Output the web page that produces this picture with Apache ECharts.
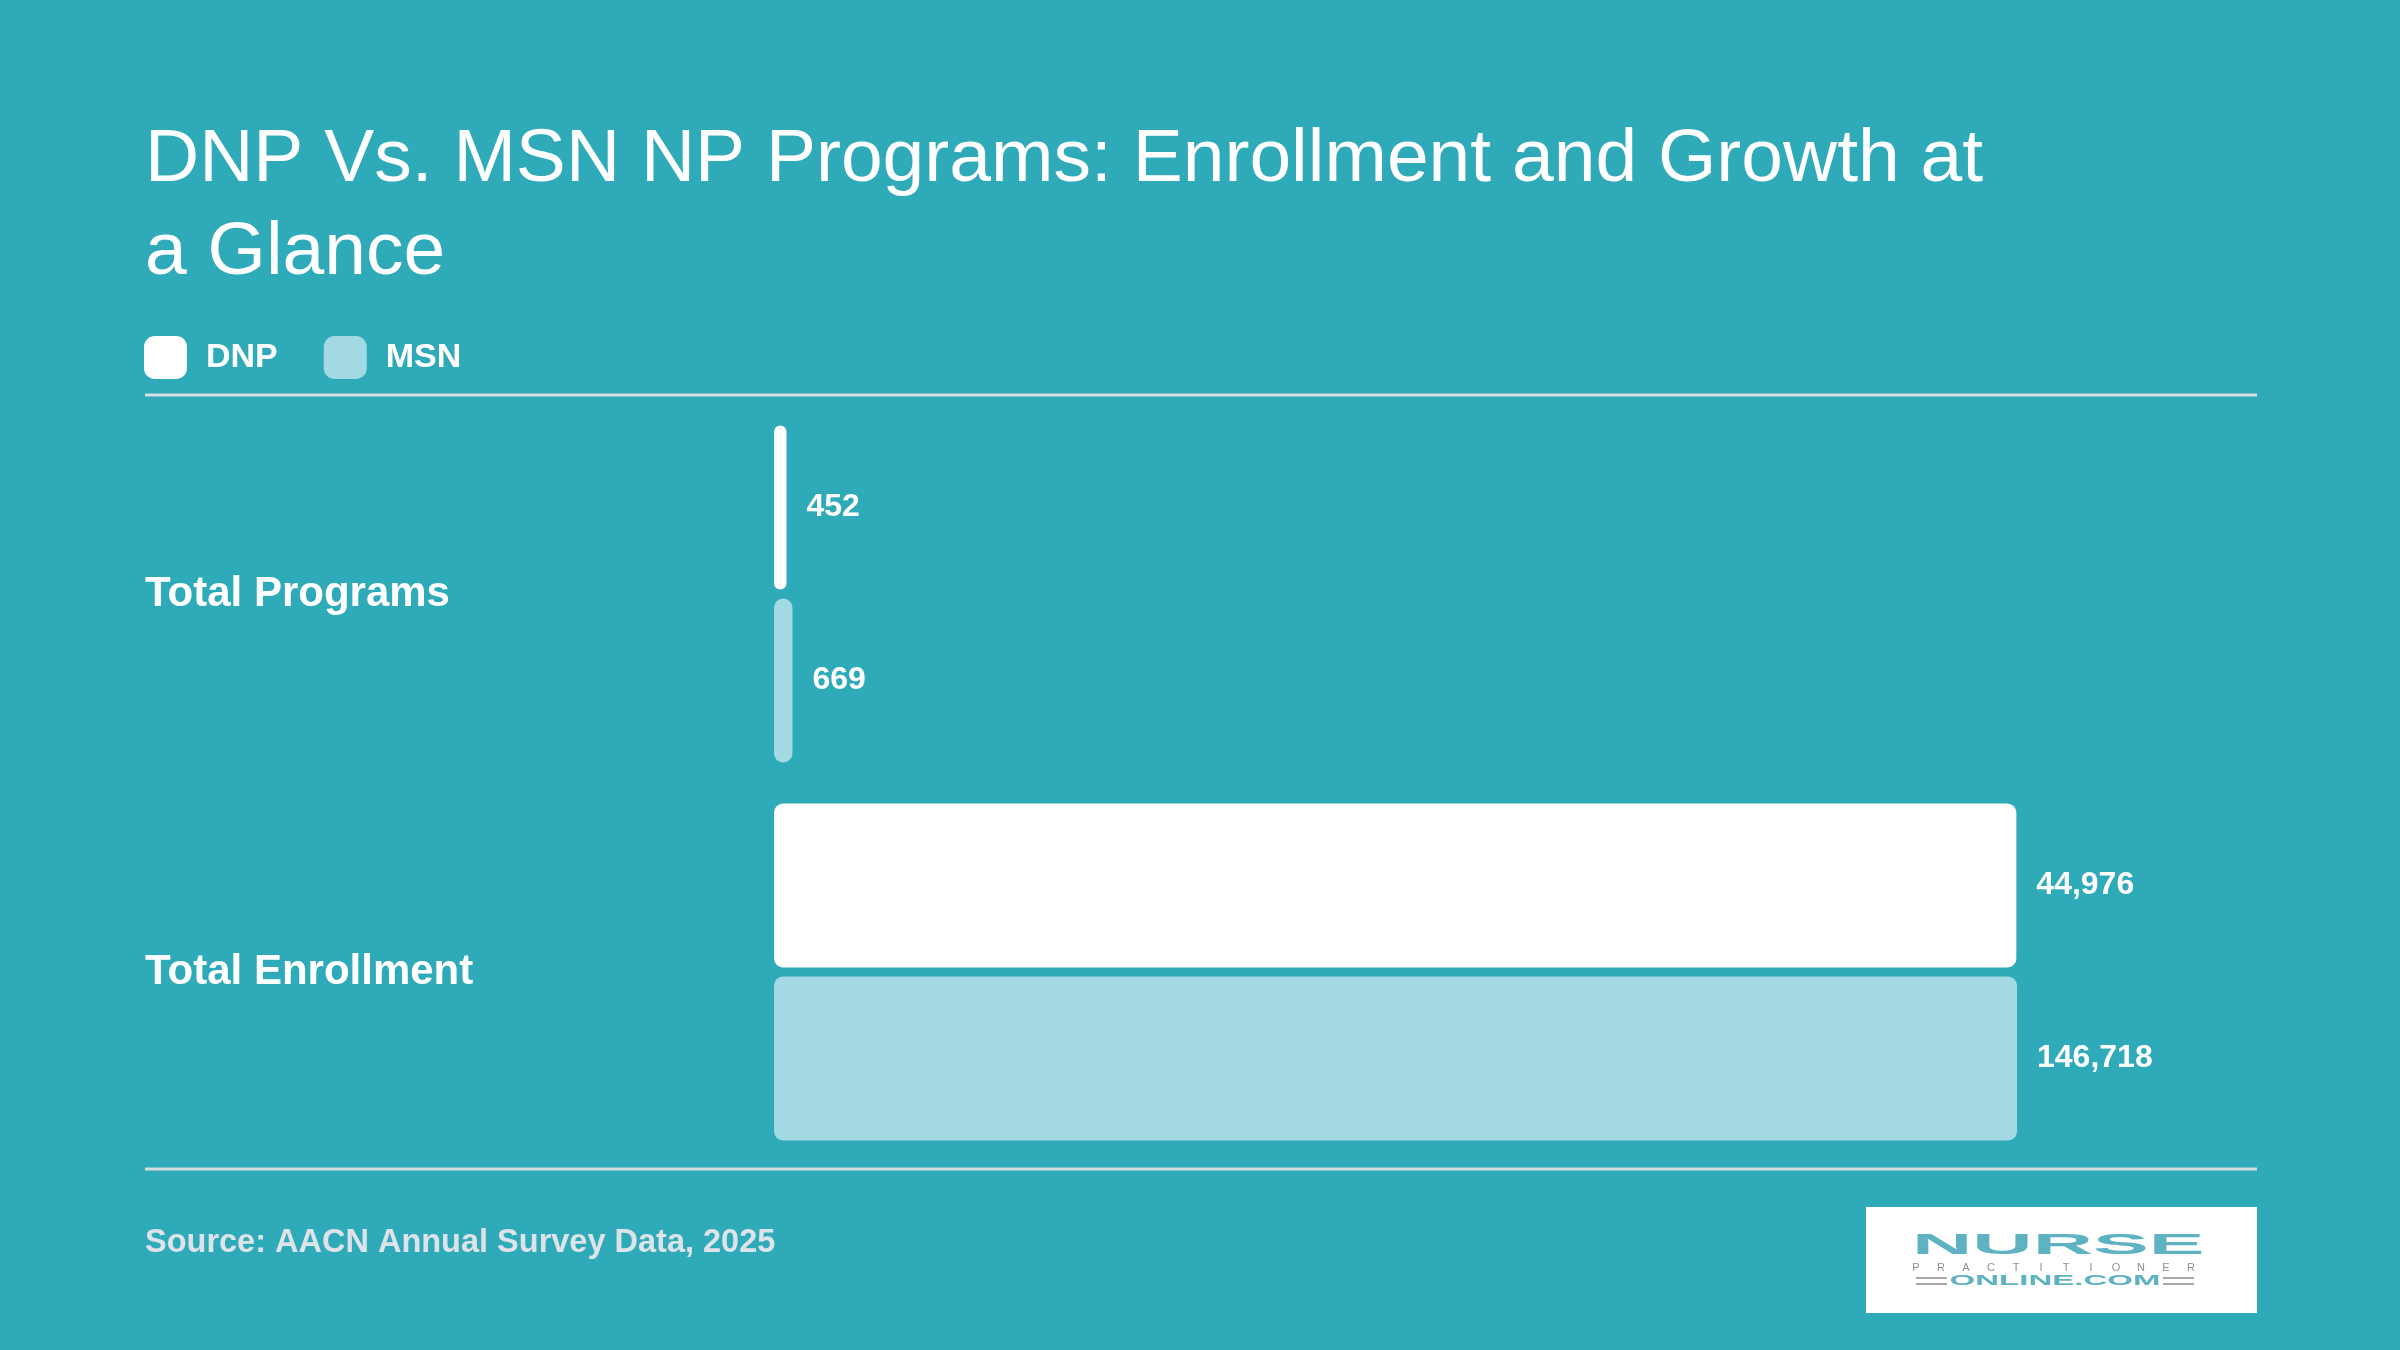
<!DOCTYPE html>
<html>
<head>
<meta charset="utf-8">
<title>DNP Vs. MSN NP Programs</title>
<script src="https://cdn.jsdelivr.net/npm/echarts@6/dist/echarts.min.js"></script>
<style>
  html, body { margin: 0; padding: 0; background: #2eaab9; }
  #main_echart { width: 2400px; height: 1350px; }
</style>
</head>
<body>
<div id="main_echart"></div>
<script>
// data
var categories = ['Total Programs', 'Total Enrollment'];
var seriesNames = ['DNP', 'MSN'];
var dnpValues = [452, 44976];
var msnValues = [669, 146718];
// the axis stops here, longer bars are capped at it (as in the original)
var axisMax = 45000;

var bgColor = '#2eaab9';
var dnpColor = '#ffffff';
var msnColor = '#a2d9e2';
var lineColor = '#d6dee4';
var logoTeal = '#5eb2c2';
var fontFamily = '"Liberation Sans", Arial, Helvetica, sans-serif';

var myChart = echarts.init(document.getElementById('main_echart'));

// bar values capped at the axis, labels keep the real number
function buildData(values) {
    var out = [];
    for (var i = 0; i < values.length; i++) {
        out.push({value: Math.min(values[i], axisMax), raw: values[i]});
    }
    return out;
}

function labelFmt(p) {
    return p.data.raw.toLocaleString('en-US');
}

//logo 里的 PRACTITIONER，字母间距很大，逐个字母放
var logoWord = 'PRACTITIONER';
var logoGraphics = [
    {type: 'rect', shape: {x: 1866, y: 1207, width: 391, height: 106}, style: {fill: '#ffffff'}},
    {
        type: 'text', x: 1912, y: 1246, scaleX: 2.88,
        style: {
            text: 'NURSE', fill: logoTeal,
            font: 'bold 29px ' + fontFamily,
            textVerticalAlign: 'middle'
        }
    },
    {
        type: 'text', x: 2055, y: 1281, scaleX: 2.2,
        style: {
            text: 'ONLINE.COM', fill: logoTeal,
            font: 'bold 15px ' + fontFamily,
            textAlign: 'center', textVerticalAlign: 'middle'
        }
    },
    {type: 'rect', shape: {x: 1916, y: 1277, width: 31, height: 2}, style: {fill: '#a8a8a8'}},
    {type: 'rect', shape: {x: 1916, y: 1283, width: 31, height: 2}, style: {fill: '#a8a8a8'}},
    {type: 'rect', shape: {x: 2163, y: 1277, width: 31, height: 2}, style: {fill: '#a8a8a8'}},
    {type: 'rect', shape: {x: 2163, y: 1283, width: 31, height: 2}, style: {fill: '#a8a8a8'}}
];
for (var k = 0; k < logoWord.length; k++) {
    logoGraphics.push({
        type: 'text', x: 1916 + k * 25, y: 1268,
        style: {
            text: logoWord.charAt(k), fill: '#8f8f8f',
            font: '11px ' + fontFamily,
            textAlign: 'center', textVerticalAlign: 'middle'
        }
    });
}

var option = {
    backgroundColor: bgColor,
    animation: false,
    title: {
        text: 'DNP Vs. MSN NP Programs: Enrollment and Growth at\na Glance',
        left: 145,
        top: 114,
        padding: 0,
        textStyle: {
            color: '#ffffff',
            fontFamily: fontFamily,
            fontWeight: 'normal',
            fontSize: 75,
            lineHeight: 93
        }
    },
    legend: {
        data: seriesNames,
        left: 144,
        top: 336,
        padding: 0,
        itemWidth: 43,
        itemHeight: 43,
        itemGap: 46,
        icon: 'roundRect',
        textStyle: {
            color: '#ffffff',
            fontFamily: fontFamily,
            fontWeight: 'bold',
            fontSize: 34,
            padding: [0, 0, 0, 14]
        }
    },
    grid: {
        left: 774,
        right: 383,
        top: 405,
        bottom: 1350 - 1161
    },
    xAxis: {
        type: 'value',
        min: 0,
        max: axisMax,
        show: false
    },
    yAxis: {
        type: 'category',
        data: categories,
        inverse: true,
        axisLine: {show: false},
        axisTick: {show: false},
        splitLine: {show: false},
        axisLabel: {
            margin: 629,
            align: 'left',
            padding: [12, 0, 0, 0],
            color: '#ffffff',
            fontFamily: fontFamily,
            fontWeight: 'bold',
            fontSize: 42
        }
    },
    series: [
        {
            name: 'DNP',
            type: 'bar',
            data: buildData(dnpValues),
            barWidth: 164,
            barGap: '5.5%',
            itemStyle: {color: dnpColor, borderRadius: 9},
            label: {
                show: true,
                position: 'right',
                distance: 20,
                formatter: labelFmt,
                padding: [8, 0, 0, 0],
                color: '#ffffff',
                fontFamily: fontFamily,
                fontWeight: 'bold',
                fontSize: 32
            }
        },
        {
            name: 'MSN',
            type: 'bar',
            data: buildData(msnValues),
            barWidth: 164,
            itemStyle: {color: msnColor, borderRadius: 9},
            label: {
                show: true,
                position: 'right',
                distance: 20,
                formatter: labelFmt,
                padding: [8, 0, 0, 0],
                color: '#ffffff',
                fontFamily: fontFamily,
                fontWeight: 'bold',
                fontSize: 32
            }
        }
    ],
    graphic: [
        //分隔线
        {type: 'line', shape: {x1: 145, y1: 395, x2: 2257, y2: 395}, style: {stroke: lineColor, lineWidth: 3}},
        {type: 'line', shape: {x1: 145, y1: 1169, x2: 2257, y2: 1169}, style: {stroke: lineColor, lineWidth: 3}},
        //来源
        {
            type: 'text', left: 145, top: 1227,
            style: {
                text: 'Source: AACN Annual Survey Data, 2025',
                fill: '#dde3e8',
                font: 'bold 32.5px ' + fontFamily
            }
        }
    ].concat(logoGraphics)
};

myChart.setOption(option);
</script>
</body>
</html>
